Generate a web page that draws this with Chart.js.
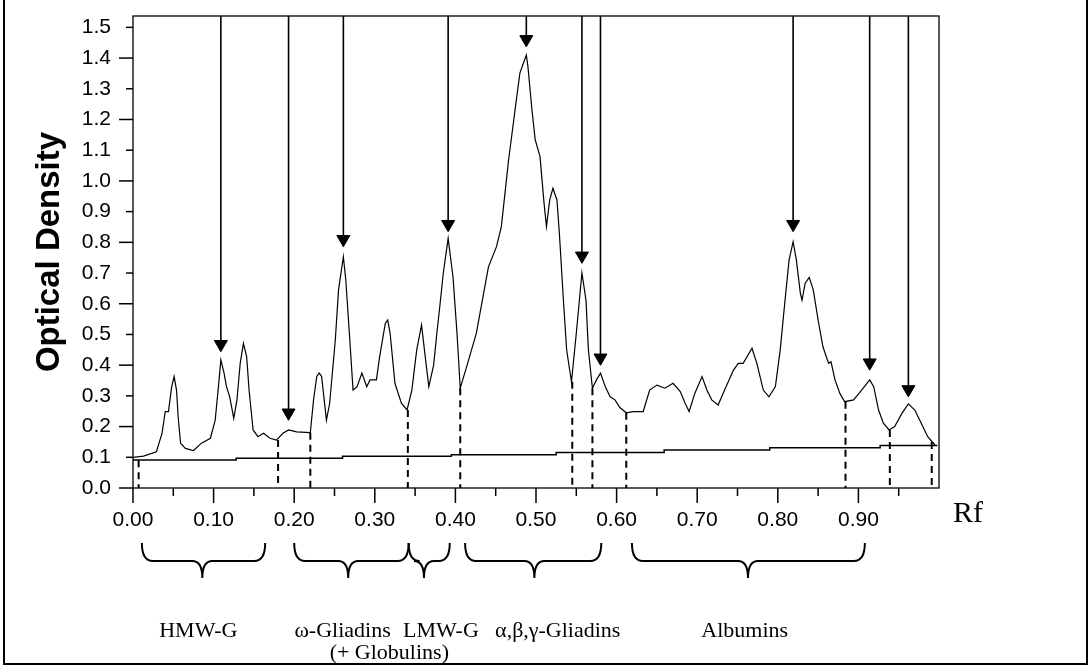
<!DOCTYPE html>
<html>
<head>
<meta charset="utf-8">
<script src="https://cdn.jsdelivr.net/npm/chart.js@4.4.0/dist/chart.umd.min.js"></script>
<style>
  html, body { margin: 0; padding: 0; background: #fff; }
  #frame { position: absolute; left: 3px; top: -2px; width: 1081px; height: 663px; border: 2px solid #000; }
  #wrap { position: absolute; left: 0; top: 0; width: 1090px; height: 667px; }
</style>
</head>
<body>
<div id="frame"></div>
<div id="wrap"><canvas id="densityChart" width="1090" height="667"></canvas></div>
<script>
// densitometer trace (Rf vs optical density)
const rfValues = [
  0.000, 0.013, 0.029, 0.036, 0.040, 0.044, 0.048, 0.051, 0.054, 0.056, 0.059, 0.065, 0.075, 0.085,
  0.096, 0.102, 0.106, 0.109, 0.113, 0.116, 0.120, 0.125, 0.129, 0.133, 0.137, 0.141, 0.144, 0.149,
  0.155, 0.162, 0.170, 0.178, 0.186, 0.193, 0.203, 0.220, 0.224, 0.228, 0.231, 0.234, 0.240, 0.244,
  0.251, 0.255, 0.261, 0.264, 0.269, 0.273, 0.278, 0.284, 0.290, 0.294, 0.302, 0.306, 0.313, 0.316,
  0.319, 0.325, 0.333, 0.340, 0.346, 0.352, 0.358, 0.362, 0.367, 0.373, 0.377, 0.381, 0.385, 0.391,
  0.397, 0.402, 0.406, 0.414, 0.426, 0.435, 0.441, 0.451, 0.457, 0.466, 0.474, 0.480, 0.488, 0.490,
  0.495, 0.499, 0.505, 0.510, 0.513, 0.517, 0.521, 0.526, 0.529, 0.534, 0.538, 0.544, 0.550, 0.557,
  0.562, 0.565, 0.570, 0.575, 0.580, 0.586, 0.592, 0.598, 0.604, 0.612, 0.621, 0.633, 0.641, 0.650,
  0.660, 0.670, 0.679, 0.685, 0.690, 0.697, 0.706, 0.712, 0.718, 0.726, 0.734, 0.745, 0.751, 0.757,
  0.768, 0.774, 0.782, 0.789, 0.797, 0.803, 0.809, 0.814, 0.819, 0.823, 0.828, 0.830, 0.834, 0.839,
  0.844, 0.850, 0.856, 0.863, 0.866, 0.871, 0.877, 0.883, 0.894, 0.904, 0.914, 0.919, 0.925, 0.931,
  0.938, 0.945, 0.954, 0.962, 0.970, 0.978, 0.986, 0.995
];
const odValues = [
  0.100, 0.104, 0.118, 0.178, 0.249, 0.249, 0.330, 0.363, 0.319, 0.232, 0.146, 0.129, 0.122, 0.146,
  0.162, 0.221, 0.330, 0.417, 0.374, 0.330, 0.297, 0.227, 0.287, 0.406, 0.471, 0.428, 0.319, 0.189,
  0.167, 0.178, 0.162, 0.156, 0.178, 0.189, 0.183, 0.180, 0.287, 0.363, 0.374, 0.363, 0.221, 0.276,
  0.482, 0.645, 0.753, 0.678, 0.482, 0.319, 0.330, 0.374, 0.330, 0.352, 0.352, 0.428, 0.536, 0.547,
  0.504, 0.341, 0.276, 0.254, 0.319, 0.450, 0.531, 0.440, 0.330, 0.400, 0.504, 0.600, 0.700, 0.813,
  0.688, 0.504, 0.325, 0.395, 0.504, 0.634, 0.720, 0.786, 0.851, 1.068, 1.231, 1.351, 1.410, 1.372,
  1.231, 1.134, 1.079, 0.927, 0.851, 0.938, 0.976, 0.938, 0.829, 0.612, 0.450, 0.346, 0.504, 0.700,
  0.612, 0.450, 0.325, 0.352, 0.374, 0.330, 0.297, 0.287, 0.262, 0.245, 0.249, 0.249, 0.319, 0.335,
  0.325, 0.341, 0.314, 0.276, 0.249, 0.308, 0.363, 0.319, 0.287, 0.270, 0.319, 0.384, 0.406, 0.406,
  0.455, 0.406, 0.319, 0.297, 0.330, 0.450, 0.612, 0.743, 0.802, 0.743, 0.634, 0.612, 0.667, 0.686,
  0.645, 0.547, 0.460, 0.406, 0.411, 0.352, 0.308, 0.281, 0.287, 0.319, 0.352, 0.330, 0.254, 0.211,
  0.189, 0.200, 0.243, 0.274, 0.254, 0.211, 0.167, 0.140
];

// stepped background line
const baselineRf = [0, 0.128, 0.260, 0.395, 0.525, 0.659, 0.790, 0.927, 0.998];
const baselineOD = [0.091, 0.097, 0.103, 0.108, 0.116, 0.124, 0.131, 0.138, 0.138];

// peak arrows
const arrowRf = [0.109, 0.193, 0.261, 0.391, 0.488, 0.557, 0.580, 0.819, 0.914, 0.962];
const arrowHeadOD = [0.468, 0.245, 0.810, 0.859, 1.461, 0.756, 0.424, 0.859, 0.408, 0.321];

// dashed cut lines between fractions
const cutRf = [0.007, 0.180, 0.220, 0.341, 0.406, 0.545, 0.570, 0.612, 0.884, 0.939, 0.991];
const cutOD = [0.090, 0.156, 0.180, 0.254, 0.325, 0.346, 0.325, 0.245, 0.281, 0.189, 0.150];

// fraction groups under the axis
const groupNames = ['HMW-G', 'ω-Gliadins', 'LMW-G', 'α,β,γ-Gliadins', 'Albumins'];
const groupStart = [0.011, 0.200, 0.342, 0.412, 0.619];
const groupEnd = [0.164, 0.342, 0.393, 0.581, 0.908];
const groupTip = [0.086, 0.267, 0.361, 0.498, 0.763];
const groupLabelRf = [0.081, 0.260, 0.382, 0.527, 0.759];
const subLabel = '(+ Globulins)';
const subLabelRf = 0.318;

const xTickValues = [0, 0.1, 0.2, 0.3, 0.4, 0.5, 0.6, 0.7, 0.8, 0.9];
const yTickValues = [0, 0.1, 0.2, 0.3, 0.4, 0.5, 0.6, 0.7, 0.8, 0.9, 1.0, 1.1, 1.2, 1.3, 1.4, 1.5];
const yTop = 1.537;

const tickFont = { family: '"Liberation Sans", Arial, sans-serif', size: 21 };

const shaftPoints = [];
arrowRf.forEach((x, i) => {
  shaftPoints.push({ x: x, y: yTop }, { x: x, y: arrowHeadOD[i] }, { x: x, y: null });
});
const cutPoints = [];
cutRf.forEach((x, i) => {
  cutPoints.push({ x: x, y: cutOD[i] }, { x: x, y: 0 }, { x: x, y: null });
});

function noPad(scale) {
  scale.paddingTop = 0;
  scale.paddingBottom = 0;
  scale.paddingLeft = 0;
  scale.paddingRight = 0;
}

function drawBrace(ctx, x0, x1, xm, yT, yB, yP) {
  const r = 11, rm = 10;
  ctx.beginPath();
  ctx.moveTo(x0, yT);
  ctx.quadraticCurveTo(x0, yB, x0 + r, yB);
  ctx.lineTo(xm - rm, yB);
  ctx.quadraticCurveTo(xm, yB, xm, yP);
  ctx.quadraticCurveTo(xm, yB, xm + rm, yB);
  ctx.lineTo(x1 - r, yB);
  ctx.quadraticCurveTo(x1, yB, x1, yT);
  ctx.stroke();
}

const decorations = {
  id: 'decorations',
  afterDraw(chart) {
    const ctx = chart.ctx;
    const area = chart.chartArea;
    const xs = chart.scales.x;
    const ys = chart.scales.y;
    ctx.save();
    ctx.strokeStyle = '#000';
    ctx.fillStyle = '#000';
    // plot box
    ctx.lineWidth = 1.3;
    ctx.strokeRect(area.left, area.top, area.right - area.left, area.bottom - area.top);
    // y ticks: long on even tenths
    ctx.lineWidth = 1.5;
    yTickValues.forEach(v => {
      const y = ys.getPixelForValue(v);
      const len = Math.round(v * 10) % 2 === 0 ? 14 : 7;
      ctx.beginPath();
      ctx.moveTo(area.left - len, y);
      ctx.lineTo(area.left, y);
      ctx.stroke();
    });
    // x ticks: major on tenths, minor on halves
    for (let k = 0; k < 20; k++) {
      const x = xs.getPixelForValue(k / 20);
      const len = k % 2 === 0 ? 15 : 8;
      ctx.beginPath();
      ctx.moveTo(x, area.bottom);
      ctx.lineTo(x, area.bottom + len);
      ctx.stroke();
    }
    // axis unit
    ctx.font = '30px "Liberation Serif", "Times New Roman", serif';
    ctx.textAlign = 'left';
    ctx.textBaseline = 'alphabetic';
    ctx.fillText('Rf', area.right + 14, 522);
    // braces
    ctx.lineWidth = 2;
    groupNames.forEach((name, i) => {
      drawBrace(ctx, xs.getPixelForValue(groupStart[i]), xs.getPixelForValue(groupEnd[i]),
        xs.getPixelForValue(groupTip[i]), 543, 561, 578);
    });
    // group labels
    ctx.font = '22px "Liberation Serif", "Times New Roman", serif';
    ctx.textAlign = 'center';
    groupNames.forEach((name, i) => {
      ctx.fillText(name, xs.getPixelForValue(groupLabelRf[i]), 637);
    });
    ctx.fillText(subLabel, xs.getPixelForValue(subLabelRf), 659);
    ctx.restore();
  }
};

new Chart(document.getElementById('densityChart').getContext('2d'), {
  type: 'line',
  data: {
    datasets: [
      {
        data: rfValues.map((x, i) => ({ x: x, y: odValues[i] })),
        borderColor: '#000',
        borderWidth: 1.2,
        pointRadius: 0,
        tension: 0
      },
      {
        data: baselineRf.map((x, i) => ({ x: x, y: baselineOD[i] })),
        borderColor: '#000',
        borderWidth: 1.5,
        pointRadius: 0,
        stepped: 'before'
      },
      {
        data: shaftPoints,
        borderColor: '#000',
        borderWidth: 1.6,
        pointRadius: 0,
        spanGaps: false,
        clip: false
      },
      {
        data: arrowRf.map((x, i) => ({ x: x, y: arrowHeadOD[i] })),
        showLine: false,
        pointStyle: 'triangle',
        pointRotation: 180,
        pointRadius: 7.5,
        pointBackgroundColor: '#000',
        pointBorderColor: '#000',
        pointBorderWidth: 1
      },
      {
        data: cutPoints,
        borderColor: '#000',
        borderWidth: 2,
        borderDash: [7, 5],
        pointRadius: 0,
        spanGaps: false
      }
    ]
  },
  options: {
    responsive: false,
    animation: false,
    events: [],
    layout: { padding: { left: 6, right: 151, top: 16, bottom: 0 } },
    plugins: { legend: { display: false }, tooltip: { enabled: false } },
    scales: {
      x: {
        type: 'linear',
        min: 0,
        max: 1.0,
        grid: { display: false, drawTicks: false },
        border: { display: false },
        afterBuildTicks: scale => { scale.ticks = xTickValues.map(v => ({ value: v })); },
        afterFit: scale => { scale.height = 179; noPad(scale); },
        ticks: {
          autoSkip: false,
          maxRotation: 0,
          padding: 20,
          color: '#000',
          font: tickFont,
          callback: v => Number(v).toFixed(2)
        }
      },
      y: {
        type: 'linear',
        min: 0,
        max: yTop,
        grid: { display: false, drawTicks: false },
        border: { display: false },
        afterBuildTicks: scale => { scale.ticks = yTickValues.map(v => ({ value: v })); },
        afterFit: scale => { scale.width = 127; noPad(scale); },
        ticks: {
          autoSkip: false,
          padding: 22,
          color: '#000',
          font: tickFont,
          callback: v => Number(v).toFixed(1)
        },
        title: {
          display: true,
          text: 'Optical Density',
          color: '#000',
          font: { family: '"Liberation Sans", Arial, sans-serif', size: 33, weight: 'bold' },
          padding: { top: 24, bottom: 0 }
        }
      }
    }
  },
  plugins: [decorations]
});
</script>
</body>
</html>
